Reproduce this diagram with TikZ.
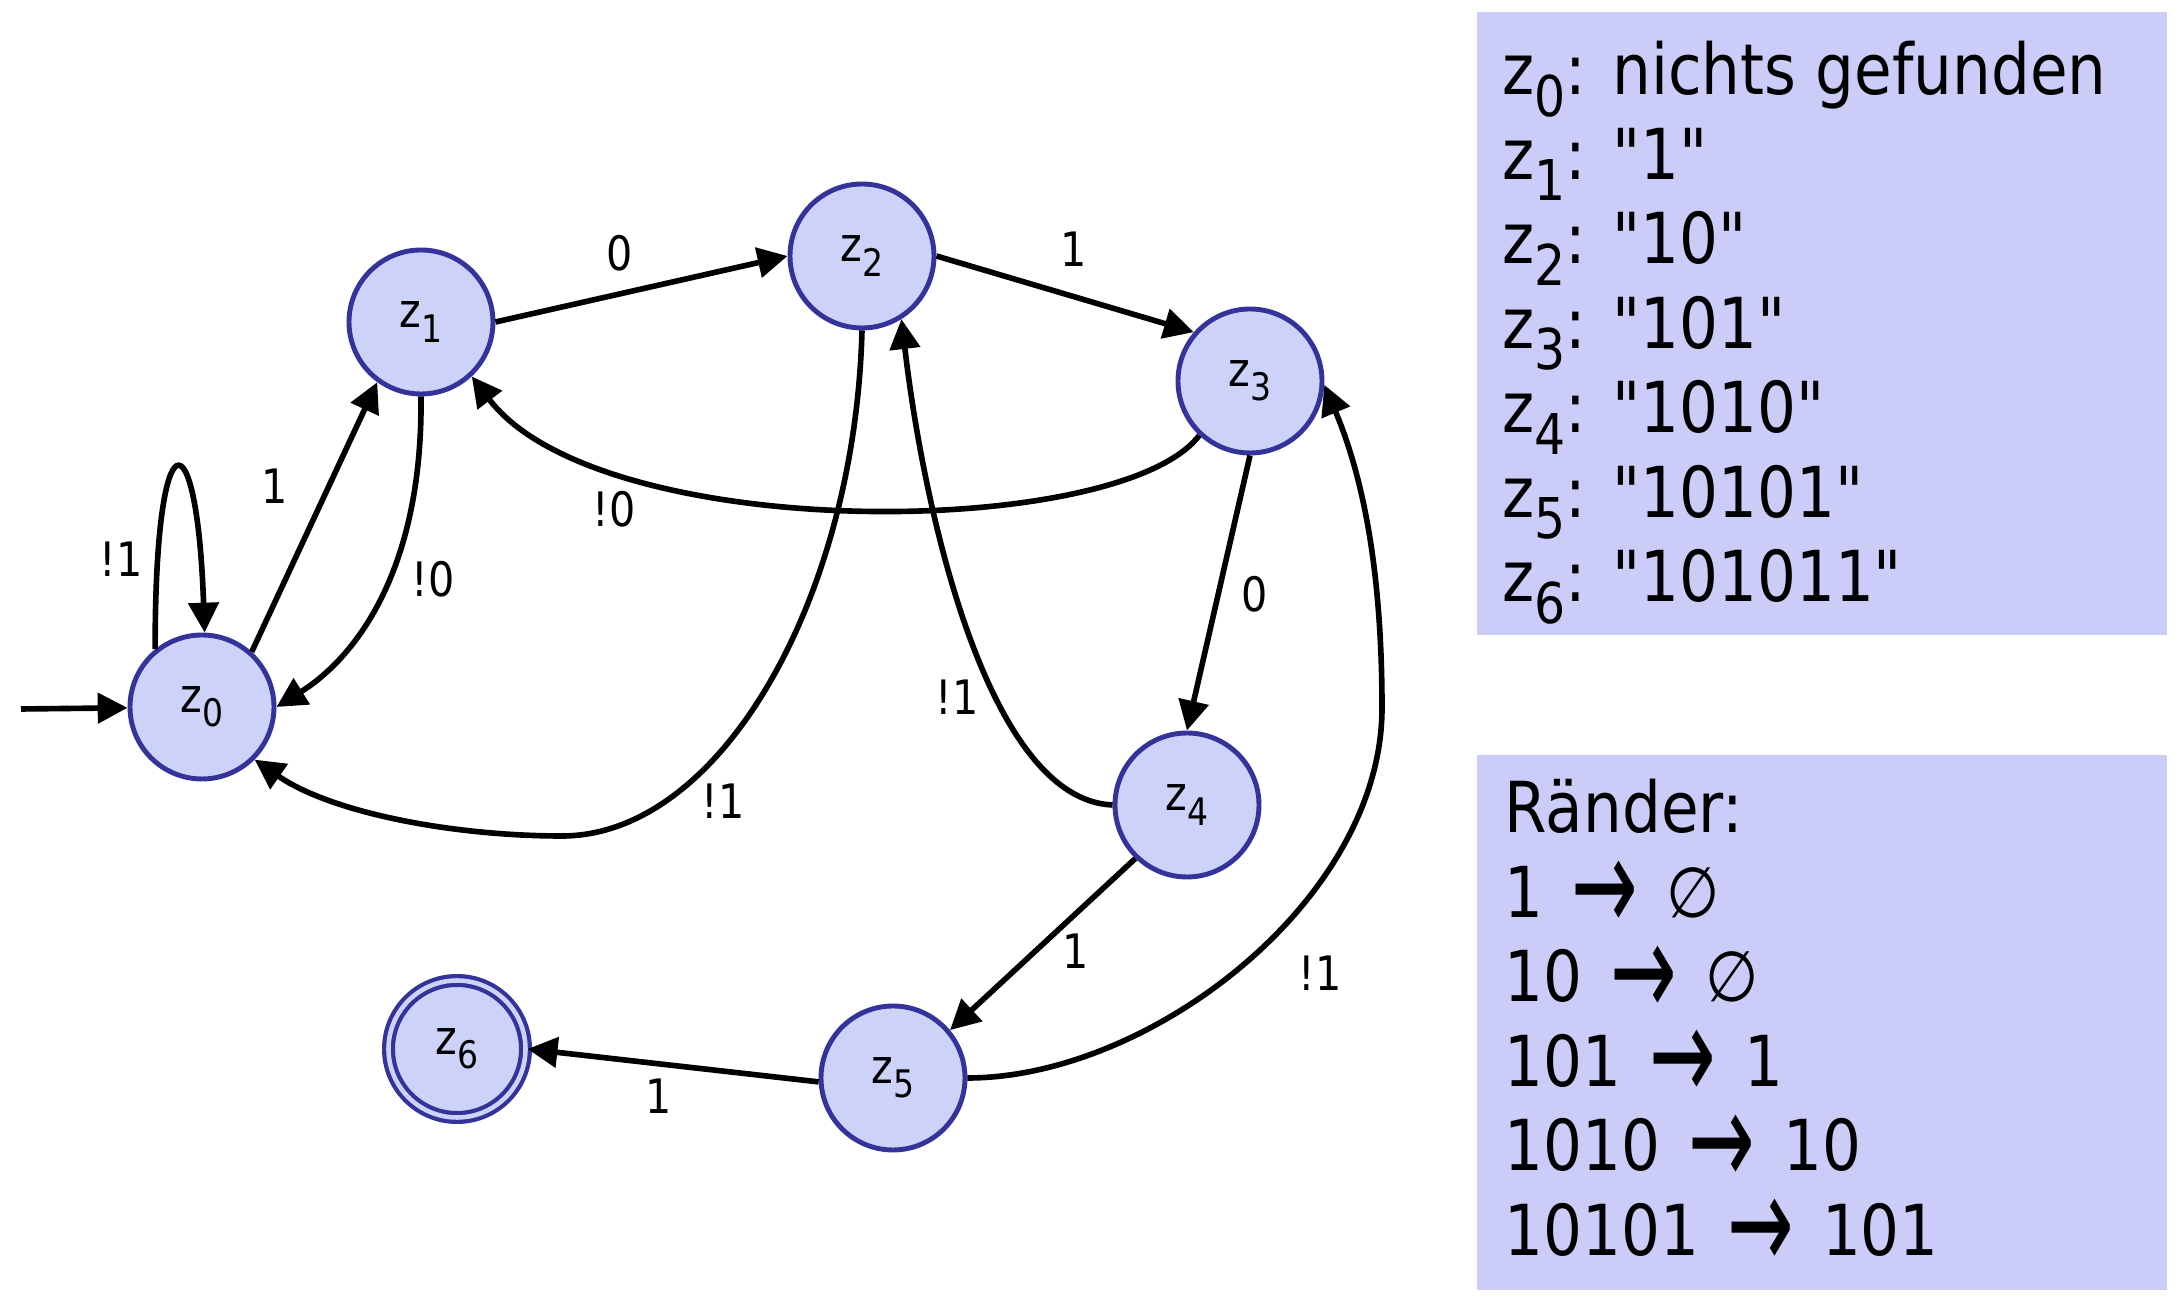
\documentclass[tikz,border=0pt]{standalone}
\usepackage{fontspec}
\setmainfont{DejaVu Sans}[FakeStretch=0.87, Ligatures=TeXOff]
\usetikzlibrary{arrows.meta}
\definecolor{zfill}{RGB}{204,210,248}
\definecolor{zdraw}{RGB}{51,51,153}
\definecolor{boxfill}{RGB}{204,204,248}
\newcommand{\zidx}[1]{\raisebox{-0.3em}{\scalebox{0.8}{#1}}}
\newcommand{\pfeil}{\hspace{0.4em}\raisebox{-0.2em}{\scalebox{1.3}[1.9]{→}}\hspace{0.4em}}

\begin{document}
\begin{tikzpicture}
  \tikzstyle{znode} = [circle, draw=zdraw, fill=zfill, line width=1.4pt, minimum size=1.44cm, inner sep=0pt, font=\fontsize{13.5}{16}\selectfont]
  \tikzstyle{zend} = [znode, double=zfill, double distance=1.3pt, line width=1.2pt, minimum size=1.37cm]
  \tikzstyle{trans} = [-{Triangle[length=8.5pt,width=8.5pt]}, line width=1.6pt]
  \tikzstyle{tlabel} = [inner sep=0pt, font=\fontsize{13.5}{16}\selectfont]
  \tikzstyle{boxtext} = [anchor=base west, inner sep=0pt, font=\fontsize{20}{24}\selectfont]

  \useasboundingbox (0,0) rectangle (21.78,-13);

  % Zustaende
  \node[znode] (z0) at (2.02,-7.07) {z\zidx{0}};
  \node[znode] (z1) at (4.21,-3.22) {z\zidx{1}};
  \node[znode] (z2) at (8.62,-2.56) {z\zidx{2}};
  \node[znode] (z3) at (12.50,-3.81) {z\zidx{3}};
  \node[znode] (z4) at (11.87,-8.05) {z\zidx{4}};
  \node[znode] (z5) at (8.93,-10.78) {z\zidx{5}};
  \node[zend] (z6) at (4.57,-10.49) {z\zidx{6}};
  \coordinate (start) at (0.21,-7.09);

  \draw[trans] (start) to (z0);
  \draw[trans] (z0.129) .. controls (1.55,-4.12) and (1.97,-4.12) .. (z0.88);
  \draw[trans] (z0.48) to (z1.234);
  \draw[trans] (z1.south) .. controls (4.23,-5.75) and (3.52,-6.6) .. (z0.east);
  \draw[trans] (z1.east) to (z2.west);
  \draw[trans] (z2.east) to (z3.139);
  \draw[trans] (z3.227) .. controls (11.2,-5.4) and (6.0,-5.45) .. (z1.-47);
  \draw[trans] (z2.south) .. controls (8.55,-6.0) and (7.2,-8.36) .. (5.62,-8.36)
               .. controls (4.5,-8.36) and (3.3,-8.12) .. (z0.-45);
  \draw[trans] (z3.south) to (z4.north);
  \draw[trans] (z4.west) .. controls (9.9,-8.0) and (9.25,-5.2) .. (z2.-58);
  \draw[trans] (z4.226) to (z5.40);
  \draw[trans] (z5.east) .. controls (11.5,-10.78) and (13.82,-9.0) .. (13.82,-7.08)
               .. controls (13.82,-5.6) and (13.6,-4.7) .. (z3.-3);
  \draw[trans] (z5.183) to (z6.east);

  % Beschriftungen
  \node[tlabel] (l00) at (1.21,-5.59) {!1};
  \node[tlabel] (l01) at (2.75,-4.86) {1};
  \node[tlabel] (l10) at (4.33,-5.79) {!0};
  \node[tlabel] (l12) at (6.20,-2.53) {0};
  \node[tlabel] (l23) at (10.74,-2.49) {1};
  \node[tlabel] (l31) at (6.14,-5.09) {!0};
  \node[tlabel] (l20) at (7.23,-8.01) {!1};
  \node[tlabel] (l34) at (12.55,-5.94) {0};
  \node[tlabel] (l42) at (9.57,-6.97) {!1};
  \node[tlabel] (l45) at (10.76,-9.51) {1};
  \node[tlabel] (l53) at (13.20,-9.73) {!1};
  \node[tlabel] (l56) at (6.59,-10.96) {1};

  % Legende
  \fill[boxfill] (14.77,-0.12) rectangle (21.67,-6.35);
  \fill[boxfill] (14.77,-7.55) rectangle (21.67,-12.90);
  \foreach \txt [count=\i from 0] in {{z\zidx{0}: nichts gefunden}, {z\zidx{1}: "1"},
      {z\zidx{2}: "10"}, {z\zidx{3}: "101"}, {z\zidx{4}: "1010"},
      {z\zidx{5}: "10101"}, {z\zidx{6}: "101011"}}
    \node[boxtext] (info\i) at (15.02,-0.95-0.845*\i) {\txt};
  \foreach \txt [count=\i from 0] in {{Ränder:}, {1\pfeil∅}, {10\pfeil∅},
      {101\pfeil1}, {1010\pfeil10}, {10101\pfeil101}}
    \node[boxtext] (rand\i) at (15.04,-8.33-0.845*\i) {\txt};
\end{tikzpicture}
\end{document}
